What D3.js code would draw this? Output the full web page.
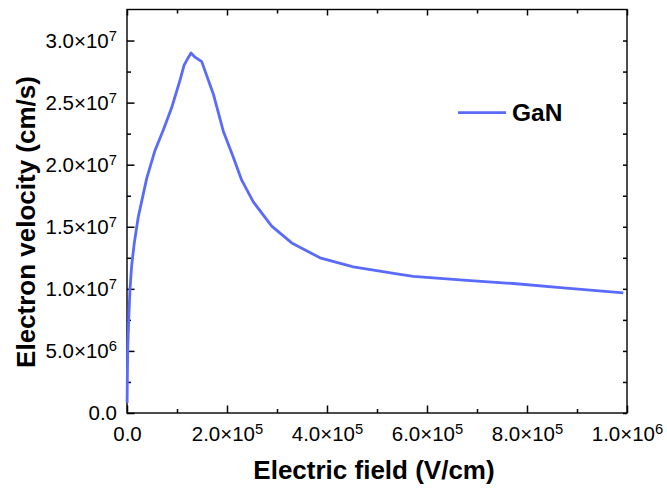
<!DOCTYPE html>
<html>
<head>
<meta charset="utf-8">
<script src="https://cdn.jsdelivr.net/npm/d3@7"></script>
<style>
    body { margin: 0; background: #fff; }
    text { font-family: "Liberation Sans", Arial, sans-serif; fill: #000; }
</style>
</head>
<body>
<div id="chart"></div>
<script>
    // electric field (V/cm) and drift velocity (cm/s)
    var field = [200, 600, 1400, 3400, 6000, 9400, 14600, 22600, 39400, 56000,
        72600, 89400, 106000, 114000, 119400, 128000, 136000, 149400, 172600,
        192600, 212600, 229400, 252600, 289400, 329400, 386000, 452600, 546000,
        572600, 672600, 772600, 872600, 992600];
    var velocity = [0.08e7, 0.24e7, 0.51e7, 0.75e7, 1.0e7, 1.19e7, 1.37e7, 1.58e7, 1.89e7, 2.115e7,
        2.28e7, 2.46e7, 2.68e7, 2.80e7, 2.84e7, 2.90e7, 2.866e7, 2.83e7, 2.57e7,
        2.27e7, 2.06e7, 1.875e7, 1.70e7, 1.505e7, 1.37e7, 1.25e7, 1.177e7, 1.116e7,
        1.10e7, 1.07e7, 1.043e7, 1.008e7, 0.968e7];
    var seriesName = "GaN";

    var xTicks = [0, 2e5, 4e5, 6e5, 8e5, 1e6];
    var xMinor = [1e5, 3e5, 5e5, 7e5, 9e5];
    var yTicks = [0, 0.5e7, 1.0e7, 1.5e7, 2.0e7, 2.5e7, 3.0e7];
    var yMinor = [0.25e7, 0.75e7, 1.25e7, 1.75e7, 2.25e7, 2.75e7];

    var xTitle = "Electric field (V/cm)";
    var yTitle = "Electron velocity (cm/s)";

    var width = 667, height = 490;
    var margin = {top: 9.5, right: 40, bottom: 77, left: 127};
    var w = width - margin.left - margin.right,
        h = height - margin.top - margin.bottom;

    var x = d3.scaleLinear().domain([0, 1e6]).range([0, w]);
    var y = d3.scaleLinear().domain([0, 3.25e7]).range([h, 0]);

    var svg = d3.select("#chart").append("svg")
        .attr("width", width)
        .attr("height", height);

    var g = svg.append("g")
        .attr("transform", "translate(" + margin.left + "," + margin.top + ")");

    // writes 2.0x10^5 style labels into a text node
    function sciLabel(sel) {
        sel.each(function(d) {
            var t = d3.select(this).text(null);
            if (d === 0) { t.text("0.0"); return; }
            var e = Math.floor(Math.log10(d) + 1e-9);
            var m = d / Math.pow(10, e);
            t.append("tspan").text(m.toFixed(1) + "\u00d710");
            t.append("tspan").attr("dy", "-0.45em").attr("font-size", "0.72em").text(e);
        });
    }

    function styleAxis(sel) {
        sel.select(".domain").remove();
        sel.selectAll("line").attr("stroke", "#000").attr("stroke-width", 1.5);
        sel.selectAll("text").attr("font-size", 20.5);
    }

    // bottom
    g.append("g")
        .attr("transform", "translate(0," + h + ")")
        .call(d3.axisBottom(x).tickValues(xTicks).tickSizeInner(-7.5).tickSizeOuter(0).tickPadding(13))
        .call(styleAxis)
        .selectAll(".tick text").call(sciLabel);
    g.append("g")
        .attr("transform", "translate(0," + h + ")")
        .call(d3.axisBottom(x).tickValues(xMinor).tickSize(-4).tickFormat(""))
        .call(styleAxis);

    // left
    g.append("g")
        .call(d3.axisLeft(y).tickValues(yTicks).tickSizeInner(-7.5).tickSizeOuter(0).tickPadding(10))
        .call(styleAxis)
        .selectAll(".tick text").call(sciLabel);
    g.append("g")
        .call(d3.axisLeft(y).tickValues(yMinor).tickSize(-4).tickFormat(""))
        .call(styleAxis);

    // top and right, ticks only
    g.append("g")
        .call(d3.axisTop(x).tickValues(xTicks).tickSize(-6).tickFormat(""))
        .call(styleAxis);
    g.append("g")
        .call(d3.axisTop(x).tickValues(xMinor).tickSize(-4).tickFormat(""))
        .call(styleAxis);
    g.append("g")
        .attr("transform", "translate(" + w + ",0)")
        .call(d3.axisRight(y).tickValues(yTicks.concat(yMinor)).tickSize(-4).tickFormat(""))
        .call(styleAxis);

    g.append("rect")
        .attr("width", w)
        .attr("height", h)
        .attr("fill", "none")
        .attr("stroke", "#000")
        .attr("stroke-width", 1.4);

    var data = field.map(function(f, i) { return {e: f, v: velocity[i]}; });

    var line = d3.line()
        .x(function(d) { return x(d.e); })
        .y(function(d) { return y(d.v); });

    g.append("path")
        .datum(data)
        .attr("fill", "none")
        .attr("stroke", "#5a6bfb")
        .attr("stroke-width", 2.8)
        .attr("stroke-linejoin", "round")
        .attr("d", line);

    // legend
    var leg = g.append("g").attr("transform", "translate(" + (x(6.62e5)) + "," + (y(2.42e7)) + ")");
    leg.append("line")
        .attr("x1", 0).attr("x2", 48)
        .attr("stroke", "#5a6bfb")
        .attr("stroke-width", 2.8);
    leg.append("text")
        .attr("x", 54)
        .attr("y", 8)
        .attr("font-size", 24.5)
        .attr("font-weight", "bold")
        .text(seriesName);

    // axis titles
    svg.append("text")
        .attr("x", margin.left + w / 2 - 3)
        .attr("y", 479)
        .attr("text-anchor", "middle")
        .attr("font-size", 26)
        .attr("font-weight", "bold")
        .text(xTitle);

    svg.append("text")
        .attr("transform", "translate(35," + 222 + ") rotate(-90)")
        .attr("text-anchor", "middle")
        .attr("font-size", 26)
        .attr("font-weight", "bold")
        .text(yTitle);
</script>
</body>
</html>
